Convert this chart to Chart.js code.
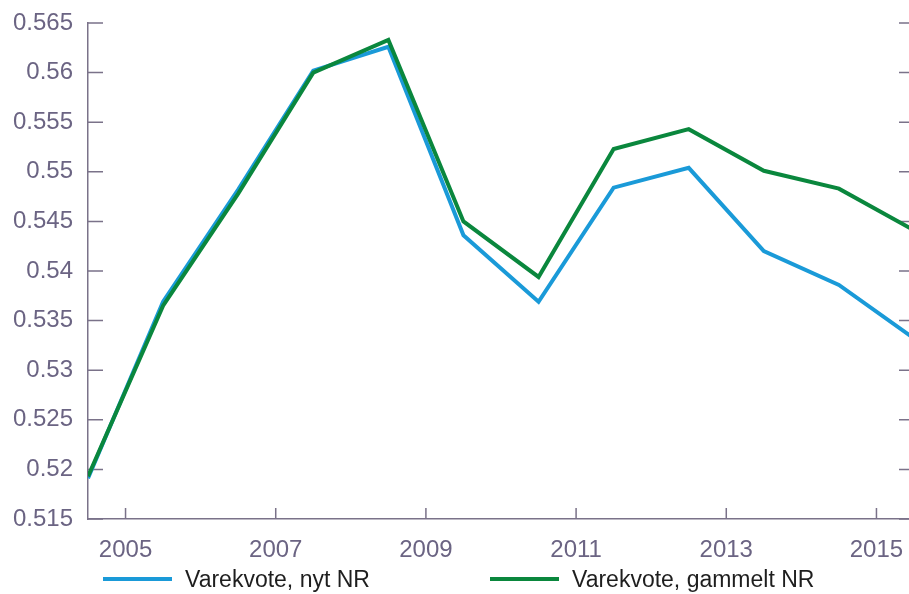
<!DOCTYPE html>
<html>
<head>
<meta charset="utf-8">
<script src="https://cdn.jsdelivr.net/npm/chart.js@4.4.1/dist/chart.umd.min.js"></script>
<style>
    html, body { margin: 0; padding: 0; overflow: hidden; background: #fff; }
    #wrap { position: relative; width: 914px; height: 594px; }
    #legend { position: absolute; left: 0; top: 566px; width: 914px; height: 26px;
              font-family: "Liberation Sans", Arial, sans-serif; font-size: 23px; color: #1e1e1e; }
    .item { position: absolute; top: 0; height: 26px; display: flex; align-items: center; white-space: nowrap; }
    .swatch { display: inline-block; width: 69px; height: 4px; margin-right: 13px; }
</style>
</head>
<body>
<div id="wrap">
    <canvas id="chart" width="914" height="594"></canvas>
    <div id="legend"></div>
</div>
<script>
// years are mid-year points
const years = [2004.5, 2005.5, 2006.5, 2007.5, 2008.5, 2009.5, 2010.5, 2011.5, 2012.5, 2013.5, 2014.5, 2015.5];
const nytNR = [0.5191, 0.5369, 0.5482, 0.5602, 0.5626, 0.5436, 0.5369, 0.5484, 0.5504, 0.5420, 0.5386, 0.5332];
const gammeltNR = [0.5193, 0.5365, 0.5478, 0.5600, 0.5633, 0.5450, 0.5394, 0.5523, 0.5543, 0.5501, 0.5483, 0.5441];
const seriesNames = ['Varekvote, nyt NR', 'Varekvote, gammelt NR'];
const seriesColors = ['#1a9ad8', '#0a873d'];
const xTickYears = [2005, 2007, 2009, 2011, 2013, 2015];
const yTickValues = [0.515, 0.52, 0.525, 0.53, 0.535, 0.54, 0.545, 0.55, 0.555, 0.56, 0.565];

const axisColor = '#7a7289';
const labelColor = '#6b6483';
const font = { family: '"Liberation Sans", Arial, sans-serif', size: 24 };

// inward tick marks on left, right and bottom
const innerTicks = {
    id: 'innerTicks',
    beforeDatasetsDraw(chart) {
        const { ctx, chartArea: a, scales: { x, y } } = chart;
        ctx.save();
        ctx.strokeStyle = axisColor;
        ctx.lineWidth = 1.5;
        ctx.beginPath();
        y.ticks.forEach(t => {
            const py = y.getPixelForValue(t.value);
            ctx.moveTo(a.left, py); ctx.lineTo(a.left + 15, py);
            ctx.moveTo(a.right - 15, py); ctx.lineTo(a.right, py);
        });
        x.ticks.forEach(t => {
            const px = x.getPixelForValue(t.value);
            ctx.moveTo(px, a.bottom); ctx.lineTo(px, a.bottom - 11);
        });
        ctx.stroke();
        ctx.restore();
    }
};

const toPoints = vals => vals.map((v, i) => ({ x: years[i], y: v }));

new Chart(document.getElementById('chart'), {
    type: 'line',
    data: {
        datasets: [
            { label: seriesNames[0], data: toPoints(nytNR), borderColor: seriesColors[0], borderWidth: 4, pointRadius: 0, tension: 0, order: 1 },
            { label: seriesNames[1], data: toPoints(gammeltNR), borderColor: seriesColors[1], borderWidth: 4, pointRadius: 0, tension: 0, order: 0 }
        ]
    },
    options: {
        responsive: false,
        animation: false,
        layout: { padding: { top: 23, left: 0, right: 0, bottom: 0 } },
        plugins: { legend: { display: false }, tooltip: { enabled: false } },
        scales: {
            x: {
                type: 'linear',
                position: 'bottom',
                min: 2004.5,
                max: 2015.5,
                afterBuildTicks: s => { s.ticks = xTickYears.map(v => ({ value: v })); },
                afterFit: s => { s.height = 75; },
                // tick gap comes from tickLength so it does not add side padding
                grid: { display: false, drawTicks: true, tickLength: 17 },
                border: { display: true, color: axisColor, width: 1.5 },
                ticks: { padding: 0, color: labelColor, font: font, maxRotation: 0, autoSkip: false, callback: v => String(v) }
            },
            y: {
                type: 'linear',
                position: 'left',
                min: 0.515,
                max: 0.565,
                afterBuildTicks: s => { s.ticks = yTickValues.map(v => ({ value: v })); },
                afterFit: s => { s.width = 88; },
                grid: { display: false, drawTicks: true, tickLength: 15 },
                border: { display: true, color: axisColor, width: 1.5 },
                ticks: { padding: 0, color: labelColor, font: font, autoSkip: false, callback: v => String(+v.toFixed(3)) }
            }
        }
    },
    plugins: [innerTicks]
});

// legend
const legend = document.getElementById('legend');
const legendLeft = [103, 490];
seriesNames.forEach((name, i) => {
    const item = document.createElement('div');
    item.className = 'item';
    item.style.left = legendLeft[i] + 'px';
    item.innerHTML = '<span class="swatch" style="background:' + seriesColors[i] + '"></span><span>' + name + '</span>';
    legend.appendChild(item);
});
</script>
</body>
</html>
